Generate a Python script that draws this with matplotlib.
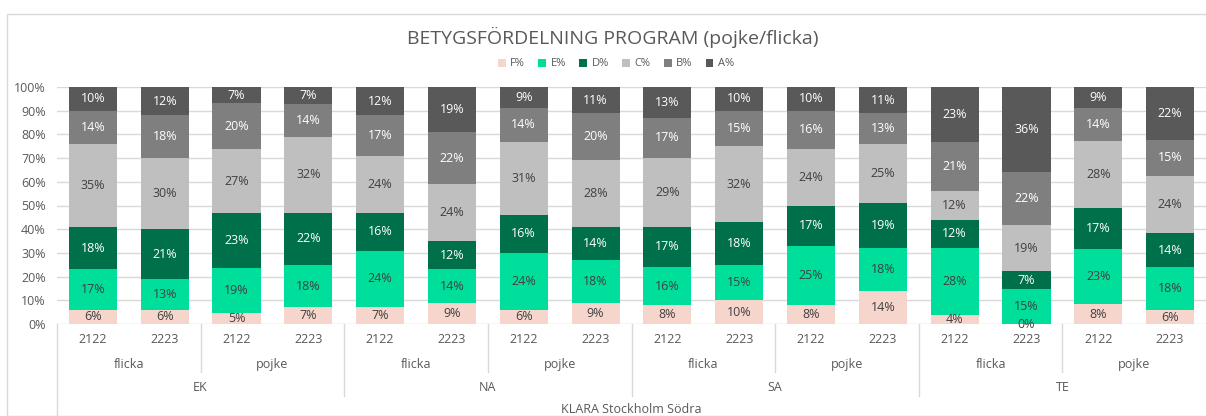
import numpy as np
import matplotlib
matplotlib.use("Agg")
from matplotlib import pyplot as plt
from matplotlib.lines import Line2D
from matplotlib.patches import Rectangle

plt.rcParams['font.family'] = ['Open Sans', 'DejaVu Sans']

# categories (program / gender / year)
programs = ['EK', 'NA', 'SA', 'TE']
genders = ['flicka', 'pojke']
years = ['2122', '2223']
school = 'KLARA Stockholm Södra'

grades = ['F%', 'E%', 'D%', 'C%', 'B%', 'A%']

# percentages per bar, order: EK flicka 2122, EK flicka 2223, EK pojke 2122, ...
F = [6, 6, 4.8, 7, 7, 9, 6, 9, 8, 10, 8, 14, 4, 0, 8.3, 5.9]
E = [17, 13, 18.7, 18, 24, 14, 24, 18, 16, 15, 25, 18, 28, 14.8, 23.2, 18.3]
D = [18, 21, 23.2, 22, 16, 12, 16, 14, 17, 18, 17, 19, 12, 7.4, 17.4, 14.0]
C = [35, 30, 27.0, 32, 24, 24, 31, 28, 29, 32, 24, 25, 12, 19.4, 28.4, 24.3]
B = [14, 18, 19.5, 14, 17, 22, 14, 20, 17, 15, 16, 13, 21, 22.4, 13.8, 15.3]
A = [10, 12, 6.8, 7, 12, 19, 9, 11, 13, 10, 10, 11, 23, 36, 8.9, 22.2]

series = [F, E, D, C, B, A]
colors = ['#F6D5CC', '#00DE9B', '#00704A', '#BFBFBF', '#7F7F7F', '#595959']
label_colors = ['#404040', '#404040', 'white', '#404040', 'white', 'white']

txt = '#595959'
W, H = 1206, 416

fig = plt.figure(figsize=(W / 100, H / 100), dpi=100)
fig.patches.append(Rectangle((7 / W, 0), 1.2, (H - 14) / H, transform=fig.transFigure,
                             fill=False, ec='#D9D9D9', lw=1))

ax = fig.add_axes([57 / W, (H - 324) / H, (W - 57) / W, 237 / H])

n = len(F)
x = np.arange(n)
bottom = np.zeros(n)
for vals, col, lc, name in zip(series, colors, label_colors, grades):
    vals = np.array(vals, dtype=float)
    ax.bar(x, vals, 0.67, bottom=bottom, color=col, label=name, zorder=2)
    for xi, b, v in zip(x, bottom, vals):
        ax.text(xi, b + v / 2, f"{int(v + 0.5)}%", ha='center', va='center',
                fontsize=9, color=lc, zorder=3)
    bottom += vals

ax.set_xlim(-0.5, n - 0.5)
ax.set_ylim(0, 100)
ax.set_yticks(np.arange(0, 101, 10))
ax.set_yticklabels([f"{v}%" for v in range(0, 101, 10)], color=txt, fontsize=9)
ax.tick_params(axis='y', length=0, pad=8)
ax.set_xticks([])
ax.grid(axis='y', color='#D9D9D9', lw=1, zorder=0)
for s in ax.spines.values():
    s.set_visible(False)

# multi-level category axis
tr = ax.get_xaxis_transform()
y_year, y_gender, y_prog, y_school = -0.0675, -0.169, -0.27, -0.36
for i in range(n):
    ax.text(i, y_year, years[i % 2], ha='center', va='center', fontsize=9, color=txt, transform=tr)
for g in range(n // 2):
    ax.text(2 * g + 0.5, y_gender, genders[g % 2], ha='center', va='center', fontsize=9,
            color=txt, transform=tr)
for p, prog in enumerate(programs):
    ax.text(4 * p + 1.5, y_prog, prog, ha='center', va='center', fontsize=9, color=txt, transform=tr)
ax.text((n - 1) / 2, y_school, school, ha='center', va='center', fontsize=9, color=txt, transform=tr)

sep = '#D9D9D9'
for xs in [1.5, 5.5, 9.5, 13.5]:
    ax.add_line(Line2D([xs, xs], [0, -0.2025], transform=tr, color=sep, lw=1, clip_on=False))
for xs in [3.5, 7.5, 11.5]:
    ax.add_line(Line2D([xs, xs], [0, -0.304], transform=tr, color=sep, lw=1, clip_on=False))
ax.add_line(Line2D([-0.5, -0.5], [0, -0.4], transform=tr, color=sep, lw=1, clip_on=False))

fig.text(613 / W, (H - 37) / H, 'BETYGSFÖRDELNING PROGRAM (pojke/flicka)', ha='center',
         va='center', fontsize=14, color=txt)

fig.legend(loc='center', bbox_to_anchor=(616 / W, (H - 64) / H), ncol=6, frameon=False,
           fontsize=8, labelcolor=txt, handlelength=0.7, handleheight=0.7, handletextpad=0.4,
           columnspacing=1.2)

fig.savefig('out.png', dpi=100)
